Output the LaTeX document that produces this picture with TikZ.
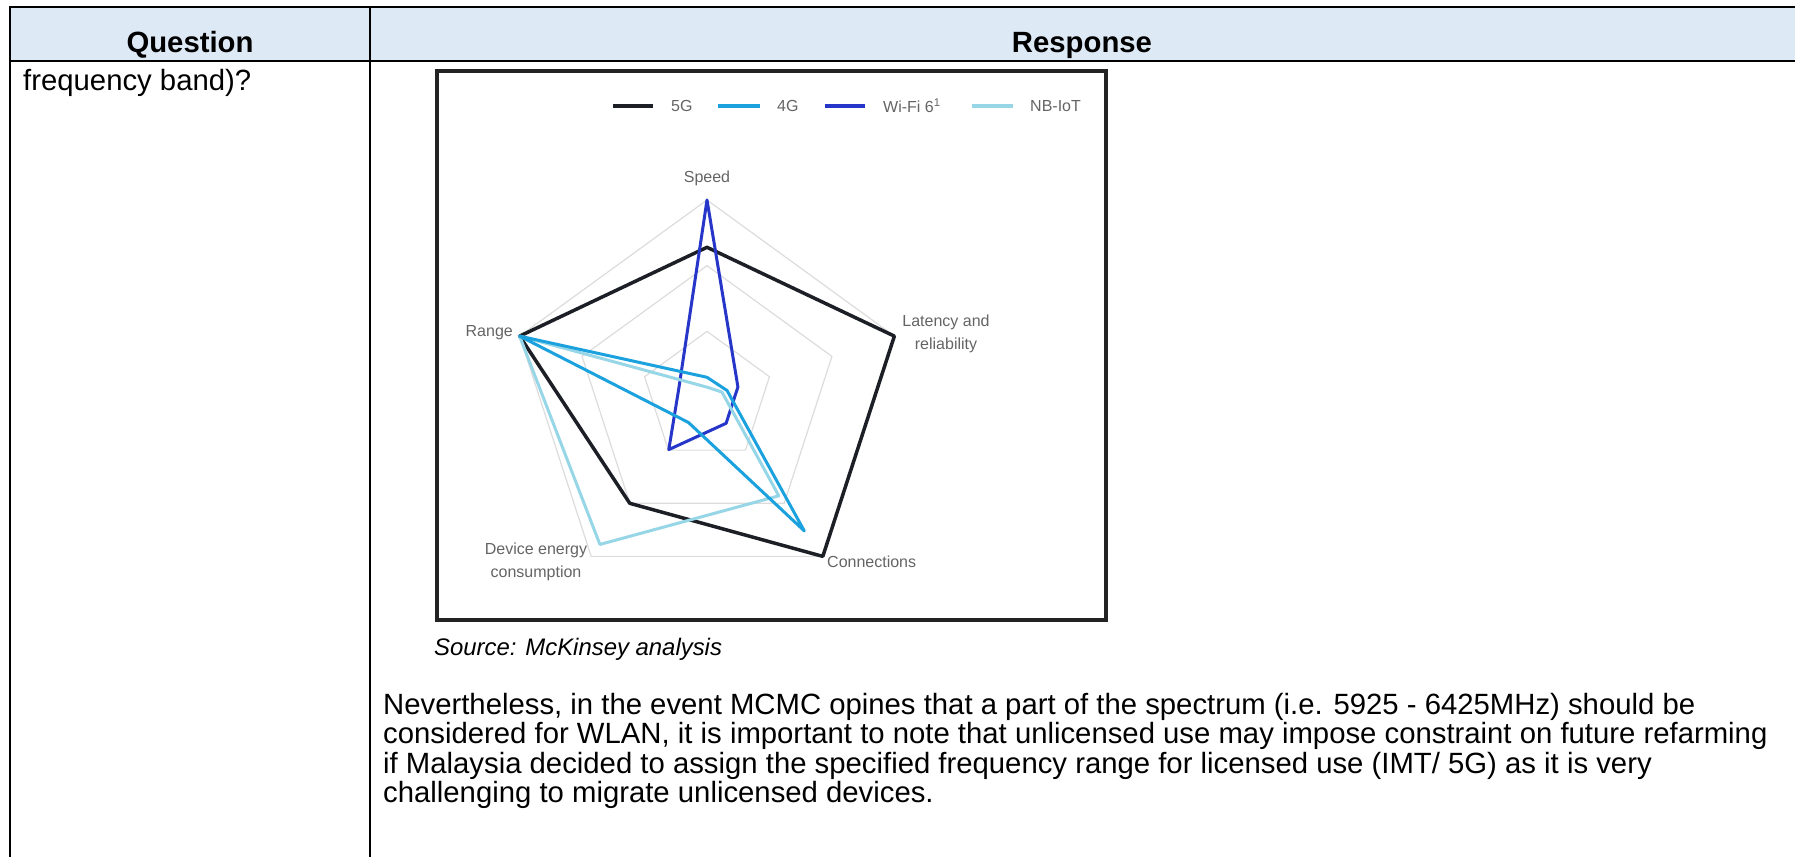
\documentclass[tikz,border=0pt]{standalone}
\usepackage{fontspec}
\setmainfont{Liberation Sans}
\definecolor{headfill}{RGB}{222,233,246}
\definecolor{fivegcol}{RGB}{28,32,38}
\definecolor{fourgcol}{RGB}{27,161,222}
\definecolor{wificol}{RGB}{37,54,200}
\definecolor{nbiotcol}{RGB}{150,214,230}
\definecolor{gridcol}{RGB}{220,220,220}
\definecolor{labelcol}{RGB}{100,100,100}
\definecolor{framecol}{RGB}{35,35,35}
\begin{document}
\begin{tikzpicture}[x=1pt,y=-1pt,
  tablerule/.style={line width=2.2pt, draw=black},
  headtxt/.style={font=\fontsize{29.3}{34}\selectfont\bfseries, inner sep=0pt, anchor=base},
  bodytxt/.style={font=\fontsize{29.3}{34}\selectfont, inner sep=0pt, anchor=base west},
  srctxt/.style={font=\fontsize{23.9}{28}\selectfont\itshape, inner sep=0pt, anchor=base west},
  charttxt/.style={font=\fontsize{16}{23}\selectfont, text=labelcol, inner sep=0pt, align=center},
  gridline/.style={draw=gridcol, line width=1.2pt},
  seriesline/.style={line width=3pt, line join=round, line cap=round},
  fiveg/.style={seriesline, draw=fivegcol, line width=3.5pt},
  fourg/.style={seriesline, draw=fourgcol},
  wifi/.style={seriesline, draw=wificol},
  nbiot/.style={seriesline, draw=nbiotcol},
  keyline/.style={line width=4pt},
]
\useasboundingbox (0,0) rectangle (1795,857);

% ---- table frame ----
\fill[headfill] (10,7) rectangle (1795,61);
\draw[tablerule] (9,7) -- (1795,7);
\draw[tablerule] (9,61) -- (1795,61);
\draw[tablerule] (10,6) -- (10,857);
\draw[tablerule] (370,6) -- (370,857);

\node[headtxt] (qhead) at (190,52) {Question};
\node[headtxt] (rhead) at (1082,52) {Response};
\node[bodytxt] (qtext) at (23,90) {frequency band)?};

% ---- chart frame ----
\draw[draw=framecol, line width=3.5pt] (437,71) rectangle (1106,620);

% legend
\draw[keyline, fivegcol] (613,106) -- (653,106);
\node[charttxt, anchor=west] (k5g) at (671,106) {5G};
\draw[keyline, fourgcol] (718,106) -- (760,106);
\node[charttxt, anchor=west] (k4g) at (777,106) {4G};
\draw[keyline, wificol] (825,106) -- (865,106);
\node[charttxt, anchor=west] (kwifi) at (883,106) {Wi-Fi 6\textsuperscript{1}};
\draw[keyline, nbiotcol] (972,106) -- (1013,106);
\node[charttxt, anchor=west] (knb) at (1030,106) {NB-IoT};

% radar grid: three concentric pentagons
\foreach \g [count=\n] in {0.3333,0.6667,1}{
  \foreach \k in {0,...,4}
    \coordinate (g\n-\k) at ({707+197*\g*sin(72*\k)},{397-197*\g*cos(72*\k)});
  \draw[gridline] (g\n-0) -- (g\n-1) -- (g\n-2) -- (g\n-3) -- (g\n-4) -- cycle;
}

% series values: speed, latency, connections, energy, range
\foreach \s/\va/\vb/\vc/\vd/\ve in {fg/0.76/1/1/0.667/1, ff/0.1/0.107/0.84/0.16/1, wf/1/0.165/0.165/0.33/0.15, nb/0.05/0.08/0.62/0.925/1}{
  \foreach \v [count=\k from 0] in {\va,\vb,\vc,\vd,\ve}
    \coordinate (\s\k) at ({707+197*\v*sin(72*\k)},{397-197*\v*cos(72*\k)});
}

\draw[fiveg] (fg0) -- (fg1) -- (fg2) -- (fg3) -- (fg4) -- cycle;
\draw[wifi] (wf0) -- (wf1) -- (wf2) -- (wf3) -- (wf4) -- cycle;
\draw[nbiot] (nb0) -- (nb1) -- (nb2) -- (nb3) -- (nb4) -- cycle;
\draw[fourg] (ff0) -- (ff1) -- (ff2) -- (ff3) -- (ff4) -- cycle;

% axis labels
\node[charttxt] (lspeed) at (707,178) {Speed};
\node[charttxt, anchor=east] (lrange) at (513,333) {Range};
\node[charttxt] (llat) at (946,334) {Latency and\\reliability};
\node[charttxt] (ldev) at (536,562) {Device energy\\consumption};
\node[charttxt, anchor=west] (lconn) at (827,562) {Connections};

% ---- caption and paragraph ----
\node[srctxt] (src) at (434,655) {Source: McKinsey analysis};
\node[bodytxt] (p1) at (383,714) {Nevertheless, in the event MCMC opines that a part of the spectrum (i.e. 5925 - 6425MHz) should be};
\node[bodytxt] (p2) at (383,743.5) {considered for WLAN, it is important to note that unlicensed use may impose constraint on future refarming};
\node[bodytxt] (p3) at (383,773) {if Malaysia decided to assign the specified frequency range for licensed use (IMT/ 5G) as it is very};
\node[bodytxt] (p4) at (383,802.5) {challenging to migrate unlicensed devices.};
\end{tikzpicture}
\end{document}
